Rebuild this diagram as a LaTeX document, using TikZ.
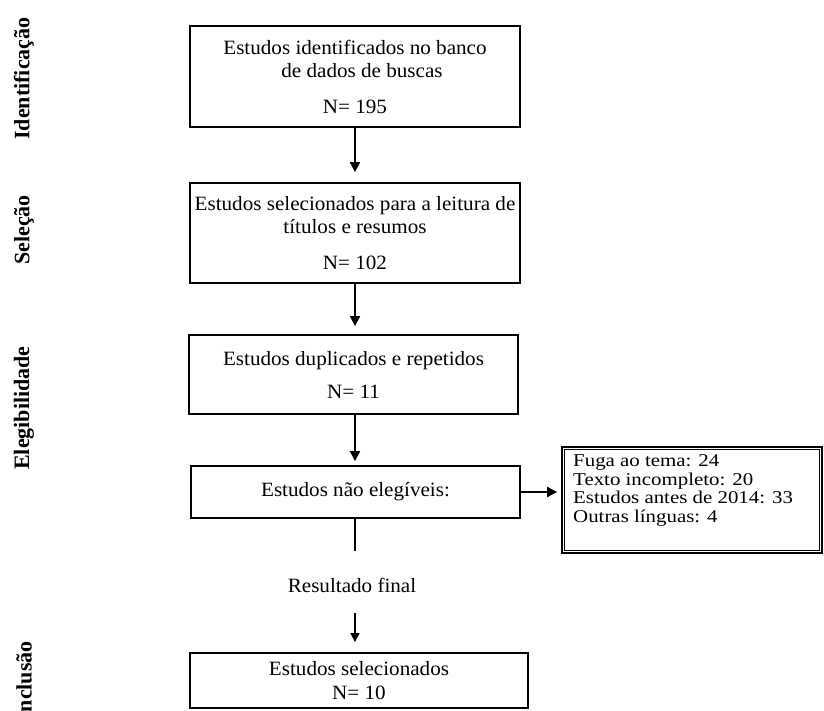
\documentclass[tikz,border=0pt]{standalone}
\usepackage{fontspec}
\setmainfont{Liberation Serif}
\newfontfamily\sidefont[FakeStretch=1.16]{Liberation Serif}
\newfontfamily\boxfont[FakeStretch=1.04]{Liberation Serif}
\usetikzlibrary{arrows.meta}
\begin{document}
\begin{tikzpicture}[x=1pt,y=-1pt]
\tikzset{
 txt/.style={font=\boxfont\fontsize{20.3}{23.5}\selectfont},
 box/.style={txt, draw, line width=1.8pt, align=center, inner sep=0pt},
 arr/.style={line width=1.8pt, -{Triangle[width=10pt,length=10pt]}},
 arrthin/.style={line width=1.4pt, -{Triangle[width=9pt,length=9pt]}},
 stage/.style={font=\fontsize{22}{24}\selectfont\bfseries, rotate=90, inner sep=0pt},
}
\useasboundingbox (0,0) rectangle (824,711);

% stage labels
\node[stage] (s1) at (24,78.5) {Identificação};
\node[stage] (s2) at (24,230) {Seleção};
\node[stage] (s3) at (24,408) {Elegibilidade};
\node[stage] (s4) at (24,681) {Inclusão};

% main boxes
\node[box, minimum width=330pt, minimum height=101pt] (b1) at (355,76.5)
  {Estudos identificados no banco\\\hspace*{14pt}de dados de buscas\\[12pt]N= 195};
\node[box, minimum width=330pt, minimum height=100pt] (b2) at (355,233)
  {Estudos selecionados para a leitura de\\títulos e resumos\\[12pt]N= 102};
\node[box, minimum width=329pt, minimum height=79pt] (b3) at (353.5,374.5)
  {Estudos duplicados e repetidos\\[9.5pt]N= 11};
\node[box, minimum width=329pt, minimum height=52pt] (b4) at (355.5,492)
  {Estudos não elegíveis:};
\node[txt] (res) at (352,585) {Resultado final};
\node[box, minimum width=338pt, minimum height=55pt] (b5) at (359,680.5)
  {Estudos selecionados\\N= 10};

% side box with double border
\node[draw, line width=1.8pt, minimum width=260pt, minimum height=106pt, inner sep=0pt] (b6) at (692,500) {};
\draw[line width=0.7pt] ([shift={(3.5pt,-3.5pt)}]b6.north west) rectangle ([shift={(-3.5pt,3.5pt)}]b6.south east);
\node[anchor=north west, align=left, inner sep=0pt, font=\sidefont\fontsize{18}{18.6}\selectfont] (b6t) at (573,454.5)
  {Fuga ao tema: 24\\Texto incompleto: 20\\Estudos antes de 2014: 33\\Outras línguas: 4};

% connectors
\coordinate (cut) at (355,551);
\draw[arr, shorten >=10pt] (b1.south) -- (b2.north);
\draw[arr, shorten >=8pt] (b2.south) -- (b2.south |- b3.north);
\draw[arr, shorten >=4pt] (b3.south -| b2.south) -- (b2.south |- b4.north);
\draw[line width=1.8pt] (b4.south -| b2.south) -- (cut);
\draw[arrthin, shorten <=17.5pt, shorten >=10pt] (res.south -| b2.south) -- (b5.north -| b2.south);
\draw[arr, shorten >=4pt] (b4.east) -- (b4.east -| b6.west);
\end{tikzpicture}
\end{document}
